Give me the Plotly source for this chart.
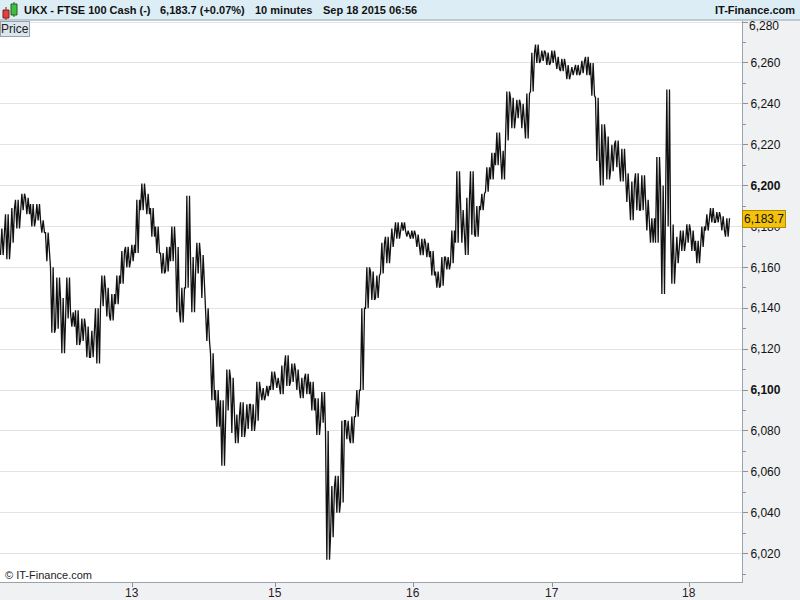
import plotly.graph_objects as go

# ---- data (10-minute bars, grouped, high/low per group) ----
bar_high = [6179, 6186, 6189, 6193, 6196, 6194, 6191, 6191, 6183, 6177,
            6160, 6155, 6145, 6155, 6138, 6139, 6135, 6131, 6129, 6140,
            6156, 6150, 6147, 6156, 6168, 6170, 6171, 6193, 6201, 6196,
            6189, 6180, 6167, 6170, 6180, 6170, 6150, 6195, 6165, 6172,
            6166, 6140, 6118, 6100, 6095, 6110, 6106, 6088, 6094, 6093,
            6093, 6104, 6101, 6102, 6109, 6106, 6112, 6117, 6113, 6110,
            6106, 6108, 6104, 6096, 6099, 6080, 6053, 6058, 6085, 6085,
            6087, 6100, 6140, 6160, 6158, 6156, 6172, 6175, 6179, 6182,
            6182, 6178, 6178, 6176, 6174, 6172, 6168, 6158, 6165, 6165,
            6178, 6207, 6188, 6194, 6207, 6190, 6196, 6209, 6216, 6226,
            6217, 6246, 6243, 6242, 6240, 6245, 6265, 6269, 6266, 6265,
            6266, 6263, 6262, 6259, 6258, 6259, 6261, 6263, 6260, 6243,
            6230, 6224, 6220, 6222, 6218, 6206, 6202, 6206, 6205, 6193,
            6184, 6214, 6200, 6247, 6181, 6175, 6178, 6181, 6178, 6173,
            6180, 6186, 6189, 6187, 6185, 6184]
bar_low = [6166, 6164, 6172, 6179, 6188, 6186, 6180, 6183, 6177, 6163,
           6128, 6130, 6118, 6135, 6131, 6122, 6124, 6116, 6116, 6113,
           6141, 6136, 6134, 6142, 6152, 6160, 6163, 6167, 6188, 6186,
           6175, 6167, 6157, 6158, 6163, 6138, 6133, 6150, 6138, 6157,
           6145, 6124, 6095, 6082, 6063, 6090, 6079, 6074, 6077, 6081,
           6080, 6085, 6095, 6097, 6100, 6101, 6098, 6102, 6104, 6100,
           6096, 6098, 6090, 6078, 6084, 6017, 6028, 6040, 6045, 6076,
           6074, 6087, 6100, 6140, 6144, 6145, 6157, 6162, 6170, 6174,
           6178, 6175, 6174, 6170, 6166, 6165, 6156, 6150, 6151, 6159,
           6162, 6172, 6172, 6166, 6176, 6175, 6188, 6197, 6203, 6210,
           6203, 6222, 6228, 6233, 6228, 6223, 6246, 6260, 6261, 6259,
           6260, 6257, 6256, 6252, 6254, 6254, 6255, 6254, 6244, 6212,
           6200, 6203, 6207, 6209, 6202, 6192, 6183, 6188, 6188, 6178,
           6172, 6172, 6147, 6180, 6152, 6162, 6168, 6172, 6168, 6162,
           6170, 6178, 6182, 6182, 6178, 6175]
last_price = 6183.7
day_labels = ["13", "15", "16", "17", "18"]
day_positions = [25.9, 54.5, 82.1, 109.9, 137.3]
price_ticks = list(range(6020, 6281, 20))

# ---- dense zig-zag strokes spanning the high/low of each group ----
xs, ys = [], []
prev = bar_low[0]
for i, (h, l) in enumerate(zip(bar_high, bar_low)):
    a, b = (h, l) if abs(prev - h) < abs(prev - l) else (l, h)
    for k, off in enumerate((-0.4, -0.13, 0.13, 0.4)):
        xs.append(i + off)
        ys.append(a if k % 2 == 0 else b)
    prev = b
xs.append(len(bar_high) - 0.6)
ys.append(last_price)

FONT = "Liberation Sans, Arial, sans-serif"
fig = go.Figure()
fig.add_trace(go.Scatter(x=xs, y=ys, mode="lines",
                         line=dict(color="#111111", width=1.3),
                         hoverinfo="skip", showlegend=False))

def fmt(v):
    s = f"{v:,}"
    if v in (6100, 6200):
        return f"<b>{s}</b>"
    if v == 6280:
        return ""
    return s

PW, PH = 742, 561

def py(ypx):
    return 1 - (ypx - 21) / PH

shapes = [
    dict(type="rect", xref="paper", yref="paper", x0=0, x1=800 / PW,
         y0=py(20), y1=py(0), fillcolor="#dcedf6", line=dict(width=0), layer="above"),
    dict(type="line", xref="paper", yref="paper", x0=0, x1=800 / PW,
         y0=py(20), y1=py(20), line=dict(color="#9aa3ab", width=1)),
    # candle icon
    dict(type="line", xref="paper", yref="paper", x0=6 / PW, x1=6 / PW,
         y0=py(20), y1=py(7), line=dict(color="#7a2020", width=1)),
    dict(type="rect", xref="paper", yref="paper", x0=3 / PW, x1=9 / PW,
         y0=py(18), y1=py(10), fillcolor="#e04040", line=dict(color="#802020", width=1)),
    dict(type="line", xref="paper", yref="paper", x0=14 / PW, x1=14 / PW,
         y0=py(17), y1=py(2), line=dict(color="#206020", width=1)),
    dict(type="rect", xref="paper", yref="paper", x0=11 / PW, x1=17 / PW,
         y0=py(15), y1=py(4), fillcolor="#40c040", line=dict(color="#206020", width=1)),
]

def hdr(text, xpx, anchor="left"):
    return dict(text=f"<b>{text}</b>", xref="paper", yref="paper", x=xpx / PW, y=py(10.5),
                xanchor=anchor, yanchor="middle", showarrow=False,
                font=dict(family=FONT, size=11, color="#111111"))

annotations = [
    hdr("UKX - FTSE 100 Cash (-)", 22),
    hdr("6,183.7 (+0.07%)", 158),
    hdr("10 minutes", 253),
    hdr("Sep 18 2015 06:56", 321),
    hdr("IT-Finance.com", 797, "right"),
    dict(text="Price", xref="paper", yref="paper", x=0, y=1, xanchor="left", yanchor="top",
         showarrow=False, bgcolor="#dbe6ee", bordercolor="#9aa3ab", borderwidth=1, borderpad=0,
         font=dict(family=FONT, size=12, color="#222222")),
    dict(text="6,280", xref="paper", yref="y", x=1, y=6280, xanchor="left", yanchor="middle",
         xshift=5, yshift=-4, showarrow=False, font=dict(family=FONT, size=12, color="#111111")),
    dict(text=f"{last_price:,.1f}", xref="paper", yref="y", x=1, y=last_price,
         xanchor="left", yanchor="middle", showarrow=False, bgcolor="#f4c20d",
         bordercolor="#b08a00", borderwidth=1, borderpad=1,
         font=dict(family=FONT, size=12, color="#111111")),
    dict(text="© IT-Finance.com", xref="paper", yref="paper", x=3 / PW, y=py(575),
         xanchor="left", yanchor="middle", showarrow=False,
         font=dict(family=FONT, size=11, color="#222222")),
]
# x-axis day labels
for pos, lab in zip(day_positions, day_labels):
    annotations.append(dict(text=lab, xref="x", yref="paper", x=pos, y=py(593),
                            xanchor="center", yanchor="middle", showarrow=False,
                            font=dict(family=FONT, size=12, color="#2a1a2a")))

fig.update_layout(
    width=800, height=600,
    margin=dict(l=0, r=58, t=21, b=18, autoexpand=False),
    paper_bgcolor="#f0f1f3", plot_bgcolor="white",
    font=dict(family=FONT, size=12, color="#111111"),
    xaxis=dict(range=[-0.5, 147.9], tickvals=day_positions, ticktext=[""] * len(day_labels),
               ticks="outside", ticklen=4, tickcolor="#8a9199", showgrid=False,
               zeroline=False, showline=True, linecolor="#9aa3ab", automargin=False),
    yaxis=dict(side="right", range=[6006.1, 6280.5], tickvals=price_ticks,
               ticktext=[fmt(v) for v in price_ticks], ticks="outside", ticklen=5,
               tickcolor="#8a9199", showgrid=True, gridcolor="#e3e3e3", gridwidth=1,
               zeroline=False, showline=True, linecolor="#9aa3ab", automargin=False,
               minor=dict(dtick=10, ticks="outside", ticklen=3, tickcolor="#8a9199", showgrid=False),
               tickfont=dict(family=FONT, size=12, color="#111111")),
    shapes=shapes, annotations=annotations, showlegend=False,
)

fig.write_html("out.html", config={"displayModeBar": False},
               post_script="document.body.style.margin='0';document.body.style.overflow='hidden';")
